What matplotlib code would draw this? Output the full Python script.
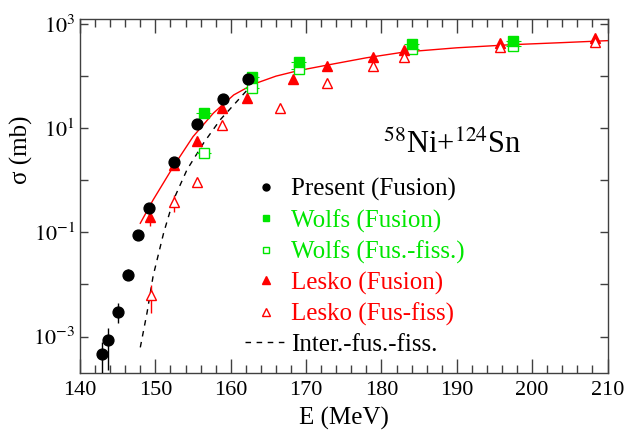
import numpy as np
import matplotlib.pyplot as plt
from matplotlib.ticker import FixedLocator, MultipleLocator, FuncFormatter

plt.rcParams['font.family'] = ['Liberation Serif', 'DejaVu Serif']
plt.rcParams['mathtext.fontset'] = 'stix'

# present data (fusion) with asymmetric errors
e_present = [142.9, 143.7, 145.0, 146.4, 147.7, 149.1, 152.5, 155.5, 159.0, 162.3]
s_present = [4.6e-4, 8.5e-4, 3.0e-3, 0.0155, 0.091, 0.30, 2.2, 11.8, 36.5, 89]
s_present_lo = [1.0e-4, 2.3e-4, 1.86e-3, 0.0126, 0.085, 0.28, 2.1, 11.3, 35, 86]
s_present_hi = [7.8e-4, 1.45e-3, 4.4e-3, 0.0195, 0.098, 0.32, 2.3, 12.3, 38, 92]

# Wolfs
e_wolfs = [156.4, 162.8, 169.0, 184.0, 197.5]
s_wolfs_fus = [20, 98, 190, 409, 478]
s_wolfs_ff = [3.4, 58.6, 137, 327, 379]
de_wolfs = [1.0, 1.0, 1.0, 1.0, 1.0]

# Lesko
e_lesko_fus = [149.3, 152.5, 155.5, 158.9, 162.2, 168.3, 172.8, 178.9, 183.0, 195.7, 208.4]
s_lesko_fus = [0.20, 1.93, 5.7, 24.3, 37.8, 88, 157, 237, 317, 427, 547]
rel_lesko_fus = [0.35, 0.1, 0.1, 0.1, 0.1, 0.1, 0.1, 0.1, 0.1, 0.1, 0.1]
e_lesko_ff = [149.4, 152.5, 155.5, 158.9, 166.5, 172.8, 178.9, 183.0, 195.7, 208.4]
s_lesko_ff = [6.4e-3, 0.38, 0.91, 11.6, 24.3, 73, 157, 230, 358, 457]
rel_lesko_ff = [0.55, 0.35, 0.1, 0.1, 0.1, 0.1, 0.1, 0.1, 0.1, 0.1]

# fusion calculation (solid) and intermediate fusion-fission (dashed)
e_model = [148.0, 149.7, 152.4, 155.0, 157.7, 160.4, 163.0, 166.0, 169.0, 173.0,
           178.0, 183.0, 190.0, 197.0, 204.0, 210.0]
s_model = [0.15, 0.42, 1.85, 6.9, 19.5, 43.6, 70, 100, 128, 165,
           225, 290, 350, 400, 440, 480]
e_iff = [148.0, 148.9, 149.7, 151.1, 152.4, 154.2, 156.4, 158.6, 160.8, 162.8]
s_iff = [6.2e-4, 2.9e-3, 0.0145, 0.098, 0.42, 1.6, 5.2, 14.5, 32.5, 68]

green = '#00e600'
red = '#ff0000'

fig = plt.figure(figsize=(6.28, 4.30), dpi=100)
ax = fig.add_axes([0.1274, 0.1326, 0.8400, 0.8232])

ax.plot(e_model, s_model, color=red, lw=1.0)
ax.plot(e_iff, s_iff, color='black', lw=1.0, ls=(0, (4, 4)))

s_p = np.array(s_present)
ax.errorbar(e_present, s_p, yerr=[s_p - np.array(s_present_lo), np.array(s_present_hi) - s_p],
            fmt='o', color='black', ms=7.8, elinewidth=1.0, capsize=0, zorder=5)

ax.errorbar(e_wolfs, s_wolfs_ff, xerr=de_wolfs, fmt='s', mfc='white', mec=green,
            ecolor=green, ms=6.5, mew=1.0, elinewidth=0.8, capsize=0, zorder=4)
ax.errorbar(e_wolfs, s_wolfs_fus, xerr=de_wolfs, fmt='s', color=green,
            ms=7, elinewidth=0.8, capsize=0, zorder=4)

s_lf = np.array(s_lesko_fus)
ax.errorbar(e_lesko_fus, s_lf, yerr=s_lf * np.array(rel_lesko_fus), fmt='^', color=red,
            ms=7.5, elinewidth=1.0, capsize=0, zorder=4)
s_lff = np.array(s_lesko_ff)
ax.errorbar(e_lesko_ff, s_lff, yerr=s_lff * np.array(rel_lesko_ff), fmt='^', mfc='white',
            mec=red, ecolor=red, ms=7.5, mew=1.0, elinewidth=1.0, capsize=0, zorder=4)

ax.set_yscale('log')
ax.set_xlim(140, 210)
ax.set_ylim(2.0e-4, 1.25e3)

ax.xaxis.set_major_locator(MultipleLocator(10))
ax.xaxis.set_minor_locator(MultipleLocator(2))
ax.yaxis.set_major_locator(FixedLocator([10.0 ** k for k in range(-3, 4)]))
ax.yaxis.set_minor_locator(FixedLocator([]))
ax.yaxis.set_major_formatter(FuncFormatter(
    lambda v, pos: r'$10^{%d}$' % round(np.log10(v)) if round(np.log10(v)) % 2 else ''))

spine_col = '#404040'
for sp in ax.spines.values():
    sp.set_color(spine_col)
    sp.set_linewidth(1.0)
ax.tick_params(axis='both', which='both', direction='in', top=True, right=True,
               colors=spine_col, labelcolor='black', labelsize=16, width=1.0)
ax.tick_params(axis='x', which='major', length=10, pad=6)
ax.tick_params(axis='x', which='minor', length=5.5)
ax.tick_params(axis='y', which='major', length=6)

ax.set_xlabel('E (MeV)', fontsize=18, labelpad=5)
ax.set_ylabel('σ (mb)', fontsize=18)
ax.yaxis.set_label_coords(-0.09, 0.63)

ax.text(0.706, 0.621, r'$^{58}$Ni+$^{124}$Sn', transform=ax.transAxes,
        ha='center', va='baseline', fontsize=22)

handles = [
    plt.Line2D([], [], ls='none', marker='o', color='black', ms=5),
    plt.Line2D([], [], ls='none', marker='s', color=green, ms=5),
    plt.Line2D([], [], ls='none', marker='s', mfc='white', mec=green, ms=5),
    plt.Line2D([], [], ls='none', marker='^', color=red, ms=6),
    plt.Line2D([], [], ls='none', marker='^', mfc='white', mec=red, ms=6),
    plt.Line2D([], [], color='black', lw=1.0, ls=(0, (4, 4))),
]
labels = ['Present (Fusion)', 'Wolfs (Fusion)', 'Wolfs (Fus.-fiss.)',
          'Lesko (Fusion)', 'Lesko (Fus-fiss)', 'Inter.-fus.-fiss.']
ax.legend(handles, labels, loc='upper left', bbox_to_anchor=(0.313, 0.55),
          frameon=False, fontsize=18, borderpad=0, borderaxespad=0,
          handlelength=1.7, handletextpad=0.12, labelspacing=0.31,
          labelcolor=['black', green, green, red, red, 'black'])

fig.savefig('out.png', dpi=100)
